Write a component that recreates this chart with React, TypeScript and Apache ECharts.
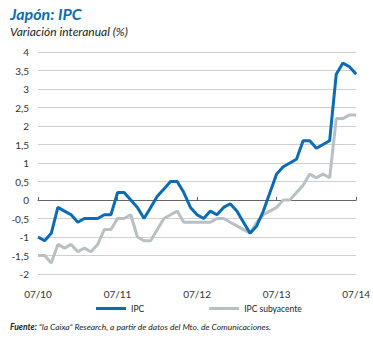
import React, { useEffect, useRef } from "react";
import * as echarts from "echarts";

const categories = [
  "07/10", "08/10", "09/10", "10/10", "11/10", "12/10",
  "01/11", "02/11", "03/11", "04/11", "05/11", "06/11",
  "07/11", "08/11", "09/11", "10/11", "11/11", "12/11",
  "01/12", "02/12", "03/12", "04/12", "05/12", "06/12",
  "07/12", "08/12", "09/12", "10/12", "11/12", "12/12",
  "01/13", "02/13", "03/13", "04/13", "05/13", "06/13",
  "07/13", "08/13", "09/13", "10/13", "11/13", "12/13",
  "01/14", "02/14", "03/14", "04/14", "05/14", "06/14",
  "07/14",
];

const ipc = [
  -1.0, -1.1, -0.9, -0.2, -0.3, -0.4, -0.6, -0.5, -0.5, -0.5, -0.4, -0.4,
  0.2, 0.2, 0.0, -0.2, -0.5, -0.2, 0.1, 0.3, 0.5, 0.5, 0.2, -0.2,
  -0.4, -0.5, -0.3, -0.4, -0.2, -0.1, -0.3, -0.6, -0.9, -0.7, -0.3, 0.2,
  0.7, 0.9, 1.0, 1.1, 1.6, 1.6, 1.4, 1.5, 1.6, 3.4, 3.7, 3.6, 3.4,
];

const ipcSubyacente = [
  -1.5, -1.5, -1.7, -1.2, -1.3, -1.2, -1.4, -1.3, -1.4, -1.2, -0.8, -0.8,
  -0.5, -0.5, -0.4, -1.0, -1.1, -1.1, -0.8, -0.5, -0.4, -0.3, -0.6, -0.6,
  -0.6, -0.6, -0.6, -0.5, -0.5, -0.6, -0.7, -0.8, -0.9, -0.6, -0.4, -0.3,
  -0.2, 0.0, 0.0, 0.2, 0.4, 0.7, 0.6, 0.7, 0.6, 2.2, 2.2, 2.3, 2.3,
];

const seriesNames = ["IPC", "IPC subyacente"];
const title = "Japón: IPC";
const subtitle = "Variación interanual (%)";
const sourceLabel = "Fuente:";
const sourceText = " \u201Cla Caixa\u201D Research, a partir de datos del Mto. de Comunicaciones.";

const BLUE = "#0b6cb5";
const GRAY = "#b7c0c4";
const FONT = "Lato, 'Noto Sans', sans-serif";

export default function App() {
  const ref = useRef<HTMLDivElement>(null);
  useEffect(() => {
    if (!ref.current) return;
    const chart = echarts.init(ref.current, null, { renderer: "svg" });
    chart.setOption({
      animation: false,
      backgroundColor: "#ffffff",
      textStyle: { fontFamily: FONT },
      grid: { left: 38, right: 12, top: 52, bottom: 64 },
      graphic: [
        {
          type: "text",
          left: 10,
          top: 5,
          style: {
            text: title,
            fill: BLUE,
            font: `italic bold 16px ${FONT}`,
          },
        },
        {
          type: "text",
          left: 10,
          top: 25,
          style: {
            text: subtitle,
            fill: "#222",
            font: `italic 12px ${FONT}`,
          },
        },
        {
          type: "text",
          left: 10,
          top: 322,
          style: {
            text: `{b|${sourceLabel}}{n|${sourceText}}`,
            rich: {
              b: { font: `italic bold 8.5px ${FONT}`, fill: "#222" },
              n: { font: `italic 8.5px ${FONT}`, fill: "#222" },
            },
          },
        },
      ],
      legend: {
        left: 91,
        top: 299,
        icon: "rect",
        itemWidth: 30,
        itemHeight: 3,
        itemGap: 65,
        textStyle: { fontSize: 8.5, color: "#222", fontFamily: FONT },
        data: seriesNames,
      },
      xAxis: [
        {
          type: "category",
          data: categories,
          boundaryGap: false,
          position: "bottom",
          axisLine: { show: false, onZero: false },
          axisTick: { show: false },
          axisLabel: {
            interval: 11,
            color: "#333",
            fontSize: 10,
            margin: 15,
          },
          splitLine: { show: false },
        },
        {
          type: "category",
          data: categories,
          boundaryGap: false,
          position: "top",
          axisLine: { show: true, onZero: true, lineStyle: { color: "#666", width: 1 } },
          axisTick: { show: true, interval: 11, length: 3, lineStyle: { color: "#666" } },
          axisLabel: { show: false },
          splitLine: { show: false },
        },
      ],
      yAxis: {
        type: "value",
        min: -2,
        max: 4,
        interval: 0.5,
        axisLine: { show: false },
        axisTick: { show: false },
        axisLabel: {
          color: "#333",
          fontSize: 10,
          margin: 9,
          formatter: (v: number) => String(v).replace(".", ","),
        },
        splitLine: { lineStyle: { color: "#cfcfcf", width: 1 } },
      },
      series: [
        {
          name: seriesNames[1],
          type: "line",
          data: ipcSubyacente,
          showSymbol: false,
          symbol: "none",
          lineStyle: { color: GRAY, width: 3 },
          itemStyle: { color: GRAY },
          z: 2,
        },
        {
          name: seriesNames[0],
          type: "line",
          data: ipc,
          showSymbol: false,
          symbol: "none",
          lineStyle: { color: BLUE, width: 3 },
          itemStyle: { color: BLUE },
          z: 3,
        },
      ],
    });
    return () => chart.dispose();
  }, []);
  return (
    <div
      ref={ref}
      style={{ position: "fixed", left: 0, top: 0, width: 373, height: 338 }}
    />
  );
}
